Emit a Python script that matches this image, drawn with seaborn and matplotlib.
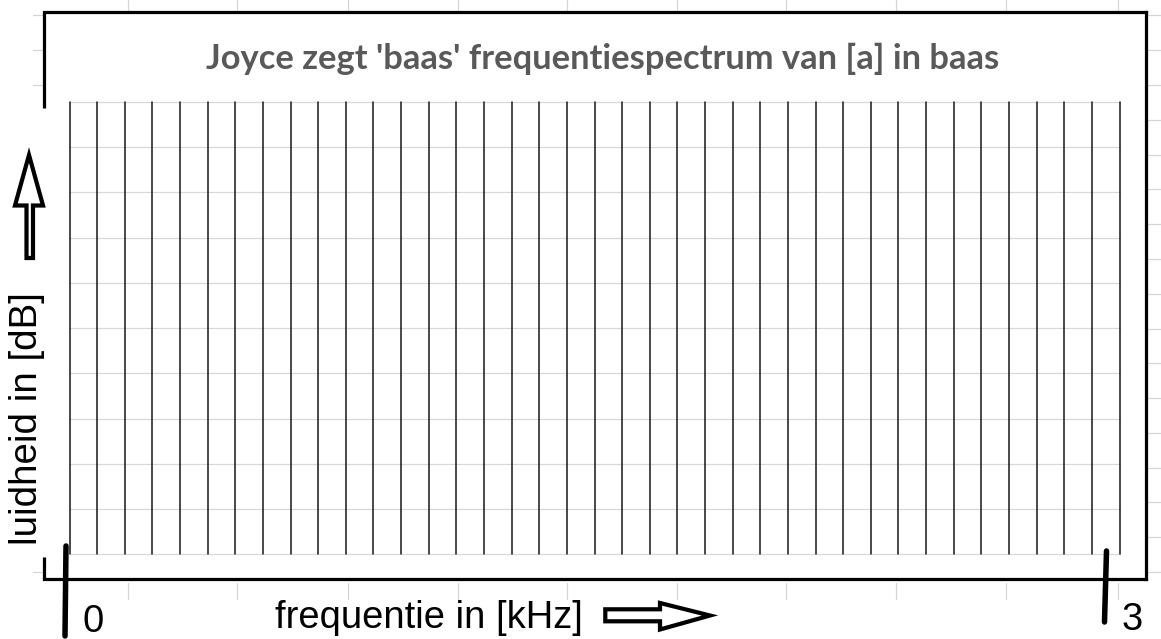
import numpy as np
import matplotlib
matplotlib.use("Agg")
import matplotlib.pyplot as plt
import seaborn as sns
from matplotlib.patches import Polygon

# ---- chart content -------------------------------------------------------
title_text = "Joyce zegt 'baas' frequentiespectrum van [a] in baas"
x_label_text = "frequentie in [kHz]"
y_label_text = "luidheid in [dB]"
x_tick_labels = ["0", "3"]          # hand-written start / end marks (kHz)
n_freq_cells = 38                   # vertical (black) grid divisions
n_level_cells = 10                  # horizontal (grey) grid divisions

# ---- figure geometry (pixels) -------------------------------------------
W, H, DPI = 1161, 639, 100
def pt(px):
    return px * 72.0 / DPI

sns.set_theme(style="whitegrid")
plt.rcParams['font.family'] = ['Liberation Sans', 'DejaVu Sans']

fig = plt.figure(figsize=(W / DPI, H / DPI), dpi=DPI, facecolor='white')

def fx(px):
    return px / W
def fy(py):
    return 1 - py / H

L, R, T, B = 69.5, 1119.5, 102.0, 554.3
ax = fig.add_axes([fx(L), fy(B), fx(R) - fx(L), fy(T) - fy(B)])
ax.set_facecolor('white')
sns.despine(ax=ax, left=True, bottom=True, top=True, right=True)
ax.set_xlim(0, n_freq_cells)
ax.set_ylim(0, n_level_cells)
ax.set_xticks(np.arange(n_freq_cells + 1))
ax.set_yticks(np.arange(n_level_cells + 1))
ax.set_xticklabels([])
ax.set_yticklabels([])
ax.tick_params(length=0)
ax.set_xlabel("")
ax.set_ylabel("")
ax.grid(axis='y', color='#d9d9d9', lw=pt(1.3))
ax.grid(axis='x', color='#121212', lw=pt(1.5))
ax.set_axisbelow(True)
ax.yaxis.set_zorder(0.4)
for gl in ax.get_xgridlines() + ax.get_ygridlines():
    gl.set_clip_on(False)

# ---- overlay in pixel coordinates ----------------------------------------
ov = fig.add_axes([0, 0, 1, 1], facecolor='none')
ov.set_xlim(0, W)
ov.set_ylim(H, 0)
ov.axis('off')

# spreadsheet cell lines peeking around the chart area
sheet_grey = '#d4d4d4'
for cx in [128, 237, 348, 458, 567, 677, 786, 896, 1006, 1118]:
    ov.plot([cx, cx], [0, 10], color=sheet_grey, lw=pt(1.2))
    ov.plot([cx, cx], [583, 599], color=sheet_grey, lw=pt(1.2))
for k in range(17):
    ry = 15.3 + 34.8 * k
    ov.plot([1147, 1161], [ry, ry], color=sheet_grey, lw=pt(1.2))
    if k in (0, 1, 2, 16):
        ov.plot([33, 43], [ry, ry], color=sheet_grey, lw=pt(1.2))

# drawn black frame
flw = pt(3.2)
ov.plot([44.3, 1145.7], [11.7, 11.7], color='black', lw=flw, solid_capstyle='projecting')
ov.plot([1145.7, 1145.7], [11.7, 578.7], color='black', lw=flw, solid_capstyle='projecting')
ov.plot([44.3, 1145.7], [578.7, 578.7], color='black', lw=flw, solid_capstyle='projecting')
ov.plot([44.3, 44.3], [11.7, 108], color='black', lw=flw, solid_capstyle='butt')
ov.plot([44.3, 44.3], [557, 578.7], color='black', lw=flw, solid_capstyle='butt')

# hand-drawn start / end strokes
ov.plot([66, 65], [546, 636], color='black', lw=pt(5.5), solid_capstyle='round')
ov.plot([1106.5, 1104.5], [551, 622], color='black', lw=pt(5.5), solid_capstyle='round')

# hollow block arrows
up_arrow = [(29, 155), (43, 205.5), (33, 205.5), (33, 258),
            (26.5, 258), (26.5, 205.5), (15, 205.5)]
ov.add_patch(Polygon(up_arrow, closed=True, facecolor='white', edgecolor='black',
                     lw=pt(4.2), joinstyle='miter'))
right_arrow = [(605.3, 609.3), (660, 609.3), (660, 603), (710, 615.5),
               (660, 629.5), (660, 621.3), (605.3, 621.3)]
ov.add_patch(Polygon(right_arrow, closed=True, facecolor='white', edgecolor='black',
                     lw=pt(4.2), joinstyle='miter'))

# ---- texts ---------------------------------------------------------------
t_title = ov.text(602.5, 69.3, title_text, ha='center', va='baseline',
                  fontsize=21, fontweight='bold', color='#595959',
                  family=['Lato', 'DejaVu Sans'])
t_x = ov.text(275, 628.3, x_label_text, ha='left', va='baseline',
              fontsize=27, color='black')
t_y = ov.text(37, 419, y_label_text, ha='center', va='baseline', rotation=90,
              rotation_mode='anchor', fontsize=27, color='black')

fig.canvas.draw()
rend = fig.canvas.get_renderer()
def fit(t, target, vertical=False):
    bb = t.get_window_extent(rend)
    size = bb.height if vertical else bb.width
    t.set_fontsize(t.get_fontsize() * target / size)

fit(t_title, 791.6)
fit(t_x, 307)
fit(t_y, 252, vertical=True)
lab_size = t_x.get_fontsize()

ov.text(82, 631.7, x_tick_labels[0], ha='left', va='baseline', fontsize=lab_size,
        color='black')
ov.text(1121.7, 630, x_tick_labels[1], ha='left', va='baseline', fontsize=lab_size,
        color='black')

fig.savefig("out.png", dpi=DPI, facecolor='white')
